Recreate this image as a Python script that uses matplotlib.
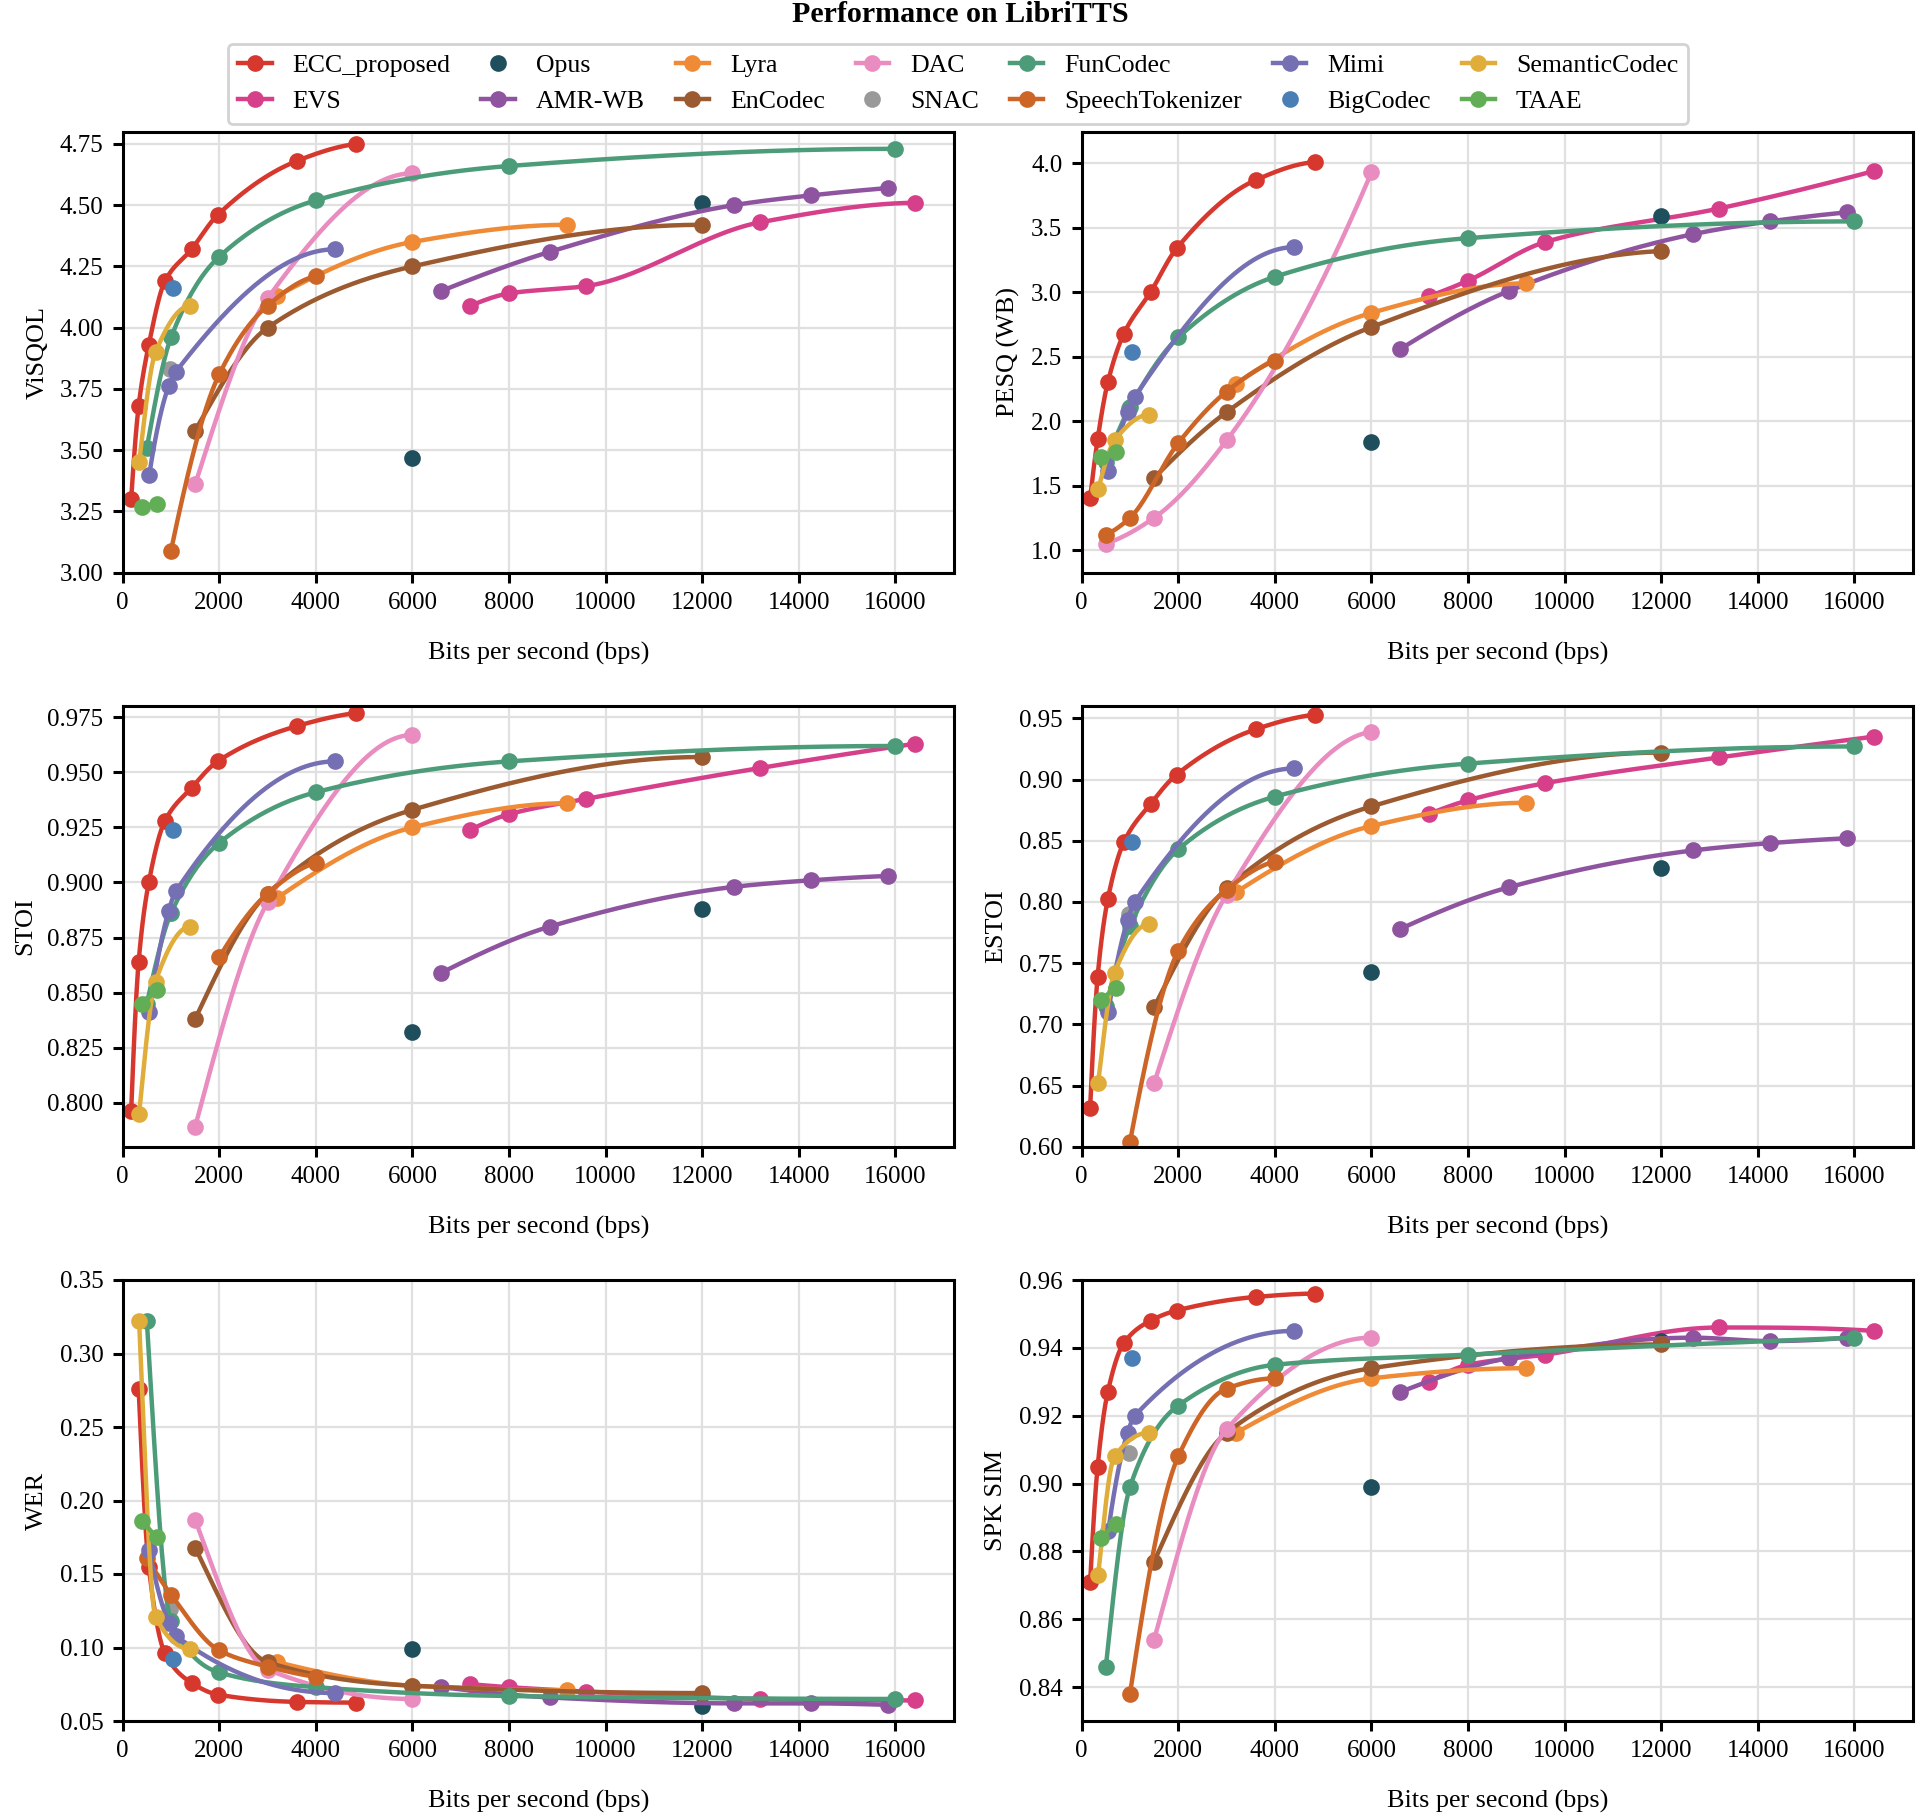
import numpy as np
import matplotlib
matplotlib.use("Agg")
import matplotlib.pyplot as plt
from matplotlib.ticker import MultipleLocator

plt.rcParams['font.family'] = ['Liberation Serif', 'DejaVu Serif']

nan = np.nan

# codec names, in legend / drawing order
codecs = ["ECC_proposed", "EVS", "Opus", "AMR-WB", "Lyra", "EnCodec", "DAC", "SNAC",
          "FunCodec", "SpeechTokenizer", "Mimi", "BigCodec", "SemanticCodec", "TAAE"]

colors = {
    "ECC_proposed": "#d7382e", "EVS": "#d6408b", "Opus": "#1f4f5c", "AMR-WB": "#8f54a0",
    "Lyra": "#ef8a36", "EnCodec": "#9c5a31", "DAC": "#e98cc0", "SNAC": "#999999",
    "FunCodec": "#4c9c7a", "SpeechTokenizer": "#cc6526", "Mimi": "#7570b3",
    "BigCodec": "#4a7fb5", "SemanticCodec": "#e0ac3a", "TAAE": "#62ae57",
}

# bitrates (bps)
bps = {
    "ECC_proposed": [175, 330, 540, 875, 1425, 1965, 3600, 4840],
    "EVS": [7200, 8000, 9600, 13200, 16400],
    "Opus": [6000, 12000],
    "AMR-WB": [6600, 8850, 12650, 14250, 15850],
    "Lyra": [3200, 6000, 9200],
    "EnCodec": [1500, 3000, 6000, 12000],
    "DAC": [500, 1500, 3000, 6000],
    "SNAC": [980],
    "FunCodec": [500, 1000, 2000, 4000, 8000, 16000],
    "SpeechTokenizer": [500, 1000, 2000, 3000, 4000],
    "Mimi": [550, 950, 1100, 4400],
    "BigCodec": [1040],
    "SemanticCodec": [340, 680, 1400],
    "TAAE": [400, 700],
}

visqol = {
    "ECC_proposed": [3.30, 3.68, 3.93, 4.19, 4.32, 4.46, 4.68, 4.75],
    "EVS": [4.09, 4.14, 4.17, 4.43, 4.51],
    "Opus": [3.47, 4.51],
    "AMR-WB": [4.15, 4.31, 4.50, 4.54, 4.57],
    "Lyra": [4.13, 4.35, 4.42],
    "EnCodec": [3.58, 4.00, 4.25, 4.42],
    "DAC": [nan, 3.36, 4.12, 4.63],
    "SNAC": [3.83],
    "FunCodec": [3.51, 3.96, 4.29, 4.52, 4.66, 4.73],
    "SpeechTokenizer": [nan, 3.09, 3.81, 4.09, 4.21],
    "Mimi": [3.40, 3.76, 3.82, 4.32],
    "BigCodec": [4.16],
    "SemanticCodec": [3.45, 3.90, 4.09],
    "TAAE": [3.27, 3.28],
}

pesq = {
    "ECC_proposed": [1.40, 1.86, 2.30, 2.68, 3.00, 3.34, 3.87, 4.01],
    "EVS": [2.97, 3.09, 3.39, 3.65, 3.94],
    "Opus": [1.84, 3.59],
    "AMR-WB": [2.56, 3.01, 3.45, 3.55, 3.62],
    "Lyra": [2.29, 2.84, 3.07],
    "EnCodec": [1.56, 2.07, 2.73, 3.32],
    "DAC": [1.05, 1.25, 1.85, 3.93],
    "SNAC": [2.10],
    "FunCodec": [1.68, 2.11, 2.65, 3.12, 3.42, 3.55],
    "SpeechTokenizer": [1.12, 1.25, 1.83, 2.23, 2.47],
    "Mimi": [1.61, 2.07, 2.19, 3.35],
    "BigCodec": [2.54],
    "SemanticCodec": [1.47, 1.85, 2.05],
    "TAAE": [1.72, 1.76],
}

stoi = {
    "ECC_proposed": [0.796, 0.864, 0.900, 0.928, 0.943, 0.955, 0.971, 0.977],
    "EVS": [0.924, 0.931, 0.938, 0.952, 0.963],
    "Opus": [0.832, 0.888],
    "AMR-WB": [0.859, 0.880, 0.898, 0.901, 0.903],
    "Lyra": [0.893, 0.925, 0.936],
    "EnCodec": [0.838, 0.895, 0.933, 0.957],
    "DAC": [nan, 0.789, 0.891, 0.967],
    "SNAC": [0.886],
    "FunCodec": [0.845, 0.886, 0.918, 0.941, 0.955, 0.962],
    "SpeechTokenizer": [nan, nan, 0.866, 0.895, 0.909],
    "Mimi": [0.841, 0.887, 0.896, 0.955],
    "BigCodec": [0.924],
    "SemanticCodec": [0.795, 0.855, 0.880],
    "TAAE": [0.845, 0.851],
}

estoi = {
    "ECC_proposed": [0.632, 0.739, 0.802, 0.849, 0.880, 0.904, 0.941, 0.953],
    "EVS": [0.872, 0.883, 0.897, 0.918, 0.935],
    "Opus": [0.743, 0.828],
    "AMR-WB": [0.778, 0.812, 0.842, 0.848, 0.852],
    "Lyra": [0.808, 0.862, 0.881],
    "EnCodec": [0.714, 0.811, 0.878, 0.922],
    "DAC": [nan, 0.652, 0.806, 0.939],
    "SNAC": [0.790],
    "FunCodec": [0.715, 0.780, 0.843, 0.886, 0.913, 0.927],
    "SpeechTokenizer": [nan, 0.604, 0.760, 0.810, 0.833],
    "Mimi": [0.710, 0.785, 0.800, 0.909],
    "BigCodec": [0.849],
    "SemanticCodec": [0.652, 0.742, 0.782],
    "TAAE": [0.720, 0.730],
}

wer = {
    "ECC_proposed": [nan, 0.276, 0.155, 0.096, 0.076, 0.068, 0.063, 0.0625],
    "EVS": [0.075, 0.073, 0.070, 0.065, 0.064],
    "Opus": [0.099, 0.060],
    "AMR-WB": [0.073, 0.066, 0.062, 0.062, 0.061],
    "Lyra": [0.090, 0.074, 0.071],
    "EnCodec": [0.168, 0.090, 0.074, 0.069],
    "DAC": [nan, 0.187, 0.085, 0.065],
    "SNAC": [0.126],
    "FunCodec": [0.322, 0.118, 0.083, 0.073, 0.067, 0.065],
    "SpeechTokenizer": [0.161, 0.136, 0.098, 0.087, 0.080],
    "Mimi": [0.166, 0.117, 0.108, 0.069],
    "BigCodec": [0.092],
    "SemanticCodec": [0.322, 0.121, 0.099],
    "TAAE": [0.186, 0.175],
}

spk_sim = {
    "ECC_proposed": [0.871, 0.905, 0.927, 0.9415, 0.948, 0.951, 0.955, 0.956],
    "EVS": [0.930, 0.935, 0.938, 0.946, 0.945],
    "Opus": [0.899, 0.942],
    "AMR-WB": [0.927, 0.937, 0.943, 0.942, 0.943],
    "Lyra": [0.915, 0.931, 0.934],
    "EnCodec": [0.877, 0.915, 0.934, 0.941],
    "DAC": [nan, 0.854, 0.916, 0.943],
    "SNAC": [0.909],
    "FunCodec": [0.846, 0.899, 0.923, 0.935, 0.938, 0.943],
    "SpeechTokenizer": [nan, 0.838, 0.908, 0.928, 0.931],
    "Mimi": [0.886, 0.915, 0.920, 0.945],
    "BigCodec": [0.937],
    "SemanticCodec": [0.873, 0.908, 0.915],
    "TAAE": [0.884, 0.888],
}

# (data, y label, y limits, tick step)
panels = [
    (visqol, "ViSQOL", (3.0, 4.80), 0.25),
    (pesq, "PESQ (WB)", (0.824, 4.246), 0.5),
    (stoi, "STOI", (0.780, 0.9803), 0.025),
    (estoi, "ESTOI", (0.60, 0.9603), 0.05),
    (wer, "WER", (0.05, 0.35), 0.05),
    (spk_sim, "SPK SIM", (0.830, 0.96), 0.02),
]


def smooth(x, y, n=300):
    """Monotone cubic (PCHIP) curve through the points."""
    x = np.asarray(x, float)
    y = np.asarray(y, float)
    m = len(x)
    if m < 3:
        return x, y
    h = np.diff(x)
    dl = np.diff(y) / h
    d = np.zeros(m)
    for k in range(1, m - 1):
        if dl[k - 1] * dl[k] > 0:
            w1 = 2 * h[k] + h[k - 1]
            w2 = h[k] + 2 * h[k - 1]
            d[k] = (w1 + w2) / (w1 / dl[k - 1] + w2 / dl[k])

    def edge(h0, h1, m0, m1):
        e = ((2 * h0 + h1) * m0 - h0 * m1) / (h0 + h1)
        if np.sign(e) != np.sign(m0):
            e = 0.0
        elif np.sign(m0) != np.sign(m1) and abs(e) > abs(3 * m0):
            e = 3 * m0
        return e

    d[0] = edge(h[0], h[1], dl[0], dl[1])
    d[-1] = edge(h[-1], h[-2], dl[-1], dl[-2])

    xs = np.linspace(x[0], x[-1], n)
    k = np.clip(np.searchsorted(x, xs) - 1, 0, m - 2)
    t = (xs - x[k]) / h[k]
    h00 = 2 * t ** 3 - 3 * t ** 2 + 1
    h10 = t ** 3 - 2 * t ** 2 + t
    h01 = -2 * t ** 3 + 3 * t ** 2
    h11 = t ** 3 - t ** 2
    ys = h00 * y[k] + h10 * h[k] * d[k] + h01 * y[k + 1] + h11 * h[k] * d[k + 1]
    return xs, ys


W, H = 1920, 1819
fig = plt.figure(figsize=(W / 200, H / 200), dpi=200)

col_left = [122.7, 1081.7]
col_w = 831
row_top = [131.7, 705.7, 1280]
row_h = 441

handles = {}
for p, (data, ylabel, ylim, step) in enumerate(panels):
    r, c = divmod(p, 2)
    ax = fig.add_axes([col_left[c] / W, 1 - (row_top[r] + row_h) / H, col_w / W, row_h / H])
    for name in codecs:
        x = np.array(bps[name], float)
        y = np.array(data[name], float)
        ok = ~np.isnan(y)
        x, y = x[ok], y[ok]
        col = colors[name]
        if name == "Opus" or len(x) == 1:
            h, = ax.plot(x, y, 'o', color=col, ms=5, zorder=2)
            handles[name] = h
            continue
        xs, ys = smooth(x, y)
        ax.plot(xs, ys, '-', color=col, lw=1.6, zorder=2)
        ax.plot(x, y, 'o', color=col, ms=5, zorder=2)
        h, = ax.plot([], [], '-o', color=col, lw=1.6, ms=5)
        handles[name] = h

    ax.set_xlim(0, 17210)
    ax.set_ylim(*ylim)
    ax.xaxis.set_major_locator(MultipleLocator(2000))
    ax.yaxis.set_major_locator(MultipleLocator(step))
    ax.grid(True, color='#e0e0e0', linewidth=0.8)
    ax.set_axisbelow(True)
    for s in ax.spines.values():
        s.set_linewidth(1.1)
    ax.tick_params(labelsize=9, length=3.5, width=1.1)
    ax.set_xlabel("Bits per second (bps)", fontsize=9.4, labelpad=10)
    ax.set_ylabel(ylabel, fontsize=9.4)

leg = fig.legend([handles[n] for n in codecs], codecs, loc='upper center',
                 bbox_to_anchor=(0.499, 1 - 44 / H), ncol=7, fontsize=9.3,
                 handlelength=1.3, columnspacing=1.2, frameon=True, fancybox=True,
                 edgecolor='#c8c8c8', borderaxespad=0)
leg.get_frame().set_linewidth(1.0)

fig.text(0.5, 1 - 15 / H, "Performance on LibriTTS", ha='center', va='center',
         fontsize=10.8, fontweight='bold')

fig.savefig("out.png", dpi=200)
